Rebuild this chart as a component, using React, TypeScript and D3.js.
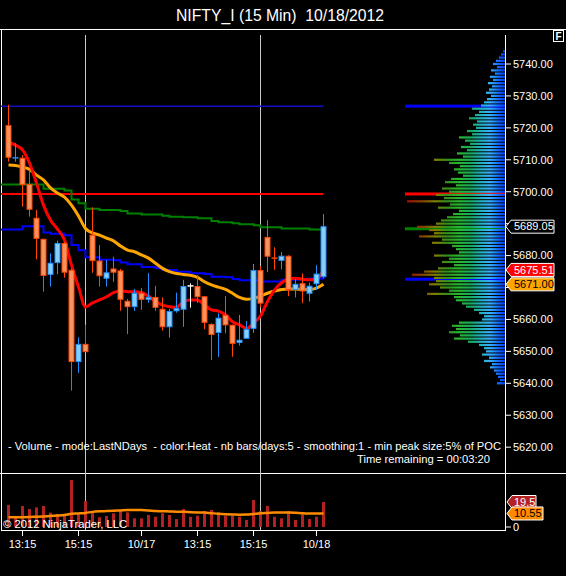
import * as d3 from "d3";

// NIFTY_I 15 min bars, 10/16 afternoon to 10/18
const opens = [
  5720.7, 5710.4, 5710.5, 5702.3, 5691.7, 5685.1, 5674.1, 5677.8, 5683.8, 5675.4,
  5646.8, 5652.2, 5686.4, 5678.3, 5672.9, 5675.8, 5675.2, 5665.7, 5664.0, 5668.2,
  5666.3, 5666.9, 5663.2, 5657.7, 5662.7, 5663.2, 5670.5, 5670.3, 5667.1, 5658.4,
  5655.9, 5661.3, 5658.2, 5652.8, 5654.1, 5657.2, 5675.3, 5685.7, 5679.2, 5678.5,
  5679.8, 5669.4, 5671.2, 5668.2, 5671.2, 5673.4,
];
const highs = [
  5727.2, 5715.2, 5711.5, 5706.8, 5694.3, 5685.3, 5680.7, 5684.7, 5684.3, 5676.0,
  5654.4, 5658.3, 5695.1, 5683.3, 5678.6, 5679.6, 5675.8, 5666.4, 5669.5, 5669.8,
  5674.5, 5670.5, 5666.9, 5663.2, 5668.4, 5672.4, 5671.3, 5673.9, 5667.3, 5658.8,
  5661.9, 5667.3, 5658.3, 5661.4, 5659.5, 5677.4, 5676.7, 5691.1, 5682.6, 5681.1,
  5680.1, 5672.6, 5674.4, 5671.5, 5677.0, 5693.0,
];
const lows = [
  5709.4, 5709.4, 5695.3, 5692.2, 5678.8, 5668.7, 5670.3, 5674.2, 5673.1, 5637.7,
  5643.3, 5649.9, 5674.6, 5670.3, 5670.3, 5671.8, 5662.7, 5655.4, 5662.7, 5663.0,
  5665.2, 5662.7, 5656.5, 5654.3, 5662.1, 5657.7, 5663.7, 5665.2, 5656.9, 5647.3,
  5648.3, 5655.7, 5648.3, 5651.8, 5654.1, 5655.8, 5663.8, 5674.8, 5675.5, 5675.7,
  5667.3, 5666.9, 5665.1, 5665.6, 5669.2, 5672.9,
];
const closes = [
  5710.8, 5710.6, 5702.3, 5694.5, 5685.4, 5673.8, 5677.6, 5683.8, 5674.8, 5646.8,
  5652.2, 5649.9, 5678.4, 5673.7, 5674.6, 5674.8, 5666.3, 5664.0, 5668.2, 5666.3,
  5666.9, 5663.8, 5657.7, 5662.5, 5663.4, 5670.3, 5670.5, 5667.1, 5659.1, 5655.3,
  5660.4, 5658.3, 5652.5, 5653.5, 5656.9, 5675.3, 5665.1, 5679.8, 5678.8, 5679.8,
  5669.4, 5671.0, 5668.9, 5670.4, 5674.2, 5689.05,
];
const volumes = [
  17.2, 7.0, 16.4, 14.0, 15.3, 16.4, 11.2, 10.1, 10.1, 36.7,
  9.9, 20.3, 11.2, 7.6, 8.6, 10.7, 13.3, 11.4, 6.8, 6.8,
  9.4, 8.0, 10.7, 9.4, 6.2, 14.0, 8.0, 8.8, 12.5, 13.3,
  11.4, 8.8, 8.8, 8.0, 5.5, 21.1, 12.5, 16.4, 8.0, 6.8,
  12.5, 5.5, 9.9, 6.2, 8.0, 19.5,
];
const volumeAvg = [
  7.6, 7.6, 7.7, 7.8, 8.0, 8.2, 8.5, 8.9, 9.4, 10.3,
  10.6, 11.0, 11.8, 12.2, 12.4, 12.6, 12.9, 13.2, 13.3, 13.2,
  12.9, 12.5, 12.3, 12.1, 11.9, 11.9, 11.6, 11.4, 11.3, 10.8,
  10.3, 10.0, 9.8, 9.6, 9.7, 10.2, 10.7, 11.0, 11.3, 11.4,
  11.4, 11.2, 10.8, 10.6, 10.5, 10.55,
];
// fast (red) and slow (orange) moving averages
const fastAvg = [
  5715.4, 5714.6, 5713.1, 5709.0, 5702.7, 5695.8, 5691.1, 5688.3, 5684.9, 5677.0,
  5670.2, 5663.9, 5665.2, 5666.1, 5667.1, 5668.4, 5668.9, 5668.7, 5668.7, 5668.4,
  5667.3, 5665.6, 5664.5, 5664.0, 5663.8, 5665.6, 5666.1, 5666.1, 5664.5, 5663.0,
  5662.6, 5661.4, 5659.3, 5658.3, 5657.2, 5658.8, 5661.1, 5665.6, 5669.2, 5671.5,
  5672.6, 5672.9, 5672.6, 5672.4, 5672.6, 5675.51,
];
const slowAvg = [
  5708.4, 5708.2, 5707.7, 5707.0, 5705.2, 5703.7, 5701.2, 5699.6, 5698.3, 5695.8,
  5692.4, 5688.5, 5687.1, 5686.4, 5685.5, 5684.6, 5683.0, 5681.7, 5681.2, 5680.2,
  5679.2, 5677.6, 5676.0, 5675.0, 5674.4, 5674.1, 5673.8, 5673.2, 5671.8, 5670.8,
  5670.1, 5669.4, 5668.2, 5666.9, 5666.3, 5666.6, 5667.3, 5668.2, 5668.9, 5669.4,
  5669.5, 5669.5, 5669.4, 5669.4, 5669.8, 5671.0,
];
// stepped levels (green, blue)
const greenLevel = [
  5702.3, 5702.3, 5702.3, 5702.3, 5702.3, 5700.9, 5700.9, 5700.9, 5700.4, 5697.6,
  5696.4, 5694.7, 5694.7, 5694.3, 5694.3, 5694.3, 5694.0, 5693.2, 5693.2, 5692.9,
  5692.9, 5692.9, 5692.5, 5692.2, 5692.2, 5692.0, 5692.0, 5691.7, 5691.7, 5690.8,
  5690.4, 5690.4, 5690.1, 5689.8, 5689.8, 5689.5, 5688.9, 5688.9, 5688.9, 5688.5,
  5688.5, 5688.5, 5688.5, 5688.2, 5688.2, 5688.2,
];
const blueLevel = [
  5688.2, 5688.2, 5689.2, 5689.2, 5689.2, 5687.2, 5686.8, 5686.8, 5686.4, 5683.3,
  5681.7, 5679.5, 5679.5, 5678.7, 5678.7, 5678.5, 5677.8, 5677.3, 5677.3, 5676.4,
  5676.4, 5676.0, 5675.5, 5675.5, 5674.9, 5674.9, 5674.5, 5674.5, 5674.2, 5673.4,
  5673.4, 5673.2, 5672.7, 5672.3, 5672.3, 5672.3, 5671.9, 5671.9, 5671.9, 5672.4,
  5672.4, 5672.4, 5672.4, 5672.8, 5672.8, 5673.3,
];
const priorHigh = 5726.8;
const redLevel = 5699.3;
const peakLevels = [5726.8, 5699.3, 5688.4, 5672.6];

// volume profile, % of POC, one row per point from profileTop downwards
const profileTop = 5744;
const profileVolume = [
  2, 4, 6, 9, 12, 8, 14, 10, 15, 12,
  17, 13, 16, 19, 14, 18, 21, 24, 33, 26,
  30, 36, 28, 32, 29, 38, 33, 46, 40, 35,
  44, 38, 48, 42, 71, 56, 45, 51, 47, 42,
  54, 60, 49, 63, 56, 69, 61, 98, 55, 67,
  46, 52, 58, 64, 69, 88, 76, 71, 86, 63,
  73, 53, 49, 46, 71, 56, 63, 51, 67, 81,
  93, 71, 69, 76, 65, 56, 78, 51, 49, 43,
  39, 31, 26, 21, 23, 46, 53, 49, 56, 45,
  51, 37, 26, 21, 19, 23, 16, 21, 13, 15,
  11, 9, 7, 5, 8,
];

const priceTicks = [5620, 5630, 5640, 5650, 5660, 5670, 5680, 5690, 5700, 5710, 5720, 5730, 5740];
const timeTickIndex = [2, 10, 19, 27, 35, 44];
const timeTickLabels = ["13:15", "15:15", "10/17", "13:15", "15:15", "10/18"];
const sessionIndex = [11, 36];

const FONT = "'Liberation Sans', Arial, Helvetica, sans-serif";

export default function App() {
  const n = closes.length;
  const last = n - 1;
  const x = d3.scaleLinear().domain([0, last]).range([8.5, 323.5]);
  const y = d3.scaleLinear().domain([5640, 5740]).range([383.3, 64]);
  const vy = d3.scaleLinear().domain([0, 19.5]).range([527, 502]);
  const px = d3.scaleLinear().domain([0, 100]).range([505, 405]);

  const avgLine = d3
    .line<number>()
    .x((_, i) => x(i))
    .y((d) => y(d))
    .curve(d3.curveMonotoneX);
  const stepLine = d3
    .line<[number, number]>()
    .x((d) => d[0])
    .y((d) => y(d[1]))
    .curve(d3.curveStepAfter);
  const stepPoints = (vals: number[]) =>
    [[1, vals[0]] as [number, number]].concat(vals.map((v, i) => [x(i), v] as [number, number]));
  const volLine = d3
    .line<number>()
    .x((_, i) => x(i))
    .y((d) => vy(d))
    .curve(d3.curveMonotoneX);

  const tag = (yc: number, left: number, w: number, h = 13) =>
    `M${left - 5},${yc} L${left},${yc - h / 2} H${left + w} V${yc + h / 2} H${left} Z`;

  // axis labels that sit under a price tag are not drawn (as in the platform)
  const tagPrices = [closes[last], fastAvg[last], slowAvg[last]];
  const hidden = (p: number) => tagPrices.some((t) => Math.abs(y(t) - y(p)) < 9);

  return (
    <svg
      width={566}
      height={576}
      style={{ position: "absolute", left: 0, top: 0, display: "block", background: "#000" }}
      fontFamily={FONT}
    >
      <defs>
        <linearGradient id="heat" gradientUnits="userSpaceOnUse" x1={505} x2={405} y1={0} y2={0}>
          <stop offset="0" stopColor="#0838ff" />
          <stop offset="0.07" stopColor="#1470ff" />
          <stop offset="0.15" stopColor="#38b0ff" />
          <stop offset="0.24" stopColor="#22b0c0" />
          <stop offset="0.34" stopColor="#18a860" />
          <stop offset="0.46" stopColor="#28b830" />
          <stop offset="0.58" stopColor="#30901c" />
          <stop offset="0.7" stopColor="#808000" />
          <stop offset="0.82" stopColor="#844400" />
          <stop offset="0.93" stopColor="#9a2000" />
          <stop offset="1" stopColor="#b00000" />
        </linearGradient>
      </defs>
      <rect x={0} y={0} width={566} height={576} fill="#000" />

      <text
        x={280}
        y={20.5}
        fill="#fff"
        fontSize={16}
        textAnchor="middle"
        textLength={208}
        lengthAdjust="spacingAndGlyphs"
        style={{ whiteSpace: "pre" }}
      >
        {"NIFTY_I (15 Min)  10/18/2012"}
      </text>

      {/* frame */}
      <line x1={0} x2={566} y1={29.5} y2={29.5} stroke="#fff" />
      <line x1={1.5} x2={1.5} y1={29} y2={530} stroke="#fff" />
      <line x1={0} x2={566} y1={473.5} y2={473.5} stroke="#fff" />
      <line x1={1} x2={505} y1={530.5} y2={530.5} stroke="#fff" />
      <line x1={505.5} x2={505.5} y1={35} y2={531} stroke="#fff" />
      <rect x={553.5} y={30.5} width={10} height={11} fill="#000" stroke="#fff" />
      <text x={558.5} y={39.5} fill="#fff" fontSize={10} fontWeight="bold" textAnchor="middle">F</text>

      {/* session lines */}
      {sessionIndex.map((i) => (
        <line key={i} x1={x(i)} x2={x(i)} y1={35} y2={530} stroke="#c8c8c8" />
      ))}

      {/* level lines */}
      <line x1={1} x2={x(last)} y1={y(priorHigh)} y2={y(priorHigh)} stroke="#1010c0" strokeWidth={1.5} />
      <line x1={1} x2={x(last)} y1={y(redLevel)} y2={y(redLevel)} stroke="#ff0000" strokeWidth={2} />
      <path d={stepLine(stepPoints(greenLevel)) ?? ""} fill="none" stroke="#008000" strokeWidth={2} />
      <path d={stepLine(stepPoints(blueLevel)) ?? ""} fill="none" stroke="#0000ff" strokeWidth={2} />

      {/* volume profile */}
      {peakLevels.map((p, i) => (
        <rect
          key={"pk" + i}
          x={px(100)}
          y={y(p) - 1.5}
          width={px(0) - px(100)}
          height={3}
          fill={["#0000ff", "#ff0000", "#008000", "#0000ff"][i]}
        />
      ))}
      {profileVolume.map((v, i) => (
        <rect key={"pr" + i} x={px(v)} y={y(profileTop - i) - 1.1} width={px(0) - px(v)} height={2.2} fill="url(#heat)" />
      ))}

      {/* averages */}
      <path d={avgLine(slowAvg) ?? ""} fill="none" stroke="#ffa500" strokeWidth={3} />
      <path d={avgLine(fastAvg) ?? ""} fill="none" stroke="#ff0000" strokeWidth={3} />

      {/* candles */}
      {closes.map((c, i) => {
        const o = opens[i];
        const up = c > o;
        const flat = c === o;
        const stroke = flat ? "#ffffff" : up ? "#1e90ff" : "#ff4500";
        const fill = flat ? "#ffffff" : up ? "#87cefa" : "#f7935e";
        const top = y(Math.max(o, c));
        const bot = y(Math.min(o, c));
        const cx = x(i);
        return (
          <g key={"c" + i}>
            <line x1={cx} x2={cx} y1={y(highs[i])} y2={y(lows[i])} stroke={stroke} strokeWidth={1} />
            {bot - top < 1.5 ? (
              <line x1={cx - 3} x2={cx + 3} y1={top} y2={top} stroke={stroke} strokeWidth={1.5} />
            ) : (
              <rect x={cx - 2.5} y={top} width={5} height={bot - top} fill={fill} stroke={stroke} strokeWidth={1} />
            )}
          </g>
        );
      })}

      {/* price axis */}
      {priceTicks.map((p) => (
        <g key={p}>
          <line x1={505} x2={511} y1={y(p)} y2={y(p)} stroke="#fff" />
          {!hidden(p) && (
            <text x={513} y={y(p) + 3.8} fill="#fff" fontSize={11}>
              {p.toFixed(2)}
            </text>
          )}
        </g>
      ))}
      <path d={tag(y(closes[last]), 511, 43)} fill="#000" stroke="#fff" />
      <text x={514} y={y(closes[last]) + 3.8} fill="#fff" fontSize={11}>{closes[last].toFixed(2)}</text>
      <path d={tag(y(fastAvg[last]), 511, 43)} fill="#ff0000" stroke="#fff" />
      <text x={514} y={y(fastAvg[last]) + 3.8} fill="#fff" fontSize={11}>{fastAvg[last].toFixed(2)}</text>
      <path d={tag(y(slowAvg[last]), 511, 43)} fill="#ffa500" stroke="#fff" />
      <text x={514} y={y(slowAvg[last]) + 3.8} fill="#000" fontSize={11}>{slowAvg[last].toFixed(2)}</text>

      {/* indicator text */}
      <text
        x={8}
        y={450}
        fill="#fff"
        fontSize={11}
        textLength={493}
        lengthAdjust="spacingAndGlyphs"
        style={{ whiteSpace: "pre" }}
      >
        {"- Volume - mode:LastNDays  - color:Heat - nb bars/days:5 - smoothing:1 - min peak size:5% of POC"}
      </text>
      <text x={357} y={462.5} fill="#fff" fontSize={11} textLength={133} lengthAdjust="spacingAndGlyphs">
        Time remaining = 00:03:20
      </text>

      {/* volume panel */}
      {volumes.map((v, i) => (
        <rect key={"v" + i} x={x(i) - 1.5} y={vy(v)} width={3} height={vy(0) - vy(v)} fill="#b22222" />
      ))}
      <path d={volLine(volumeAvg) ?? ""} fill="none" stroke="#ff8c00" strokeWidth={2.5} />
      <text x={3} y={527.5} fill="#fff" fontSize={11} textLength={124} lengthAdjust="spacingAndGlyphs">
        © 2012 NinjaTrader, LLC
      </text>
      <line x1={505} x2={511} y1={vy(0)} y2={vy(0)} stroke="#fff" />
      <text x={513} y={vy(0) + 4} fill="#fff" fontSize={11}>0</text>
      <path d={tag(vy(volumes[last]), 512, 24)} fill="#b22222" stroke="#fff" />
      <text x={514} y={vy(volumes[last]) + 3.8} fill="#fff" fontSize={11}>{String(volumes[last])}</text>
      <path d={tag(vy(volumeAvg[last]), 512, 31)} fill="#ff8c00" stroke="#fff" />
      <text x={514} y={vy(volumeAvg[last]) + 3.8} fill="#000" fontSize={11}>{volumeAvg[last].toFixed(2)}</text>

      {/* time axis */}
      {timeTickIndex.map((t, k) => (
        <g key={"t" + k}>
          <line x1={x(t)} x2={x(t)} y1={530} y2={536} stroke="#fff" />
          <text x={x(t)} y={547.5} fill="#fff" fontSize={11} textAnchor="middle">
            {timeTickLabels[k]}
          </text>
        </g>
      ))}
    </svg>
  );
}
